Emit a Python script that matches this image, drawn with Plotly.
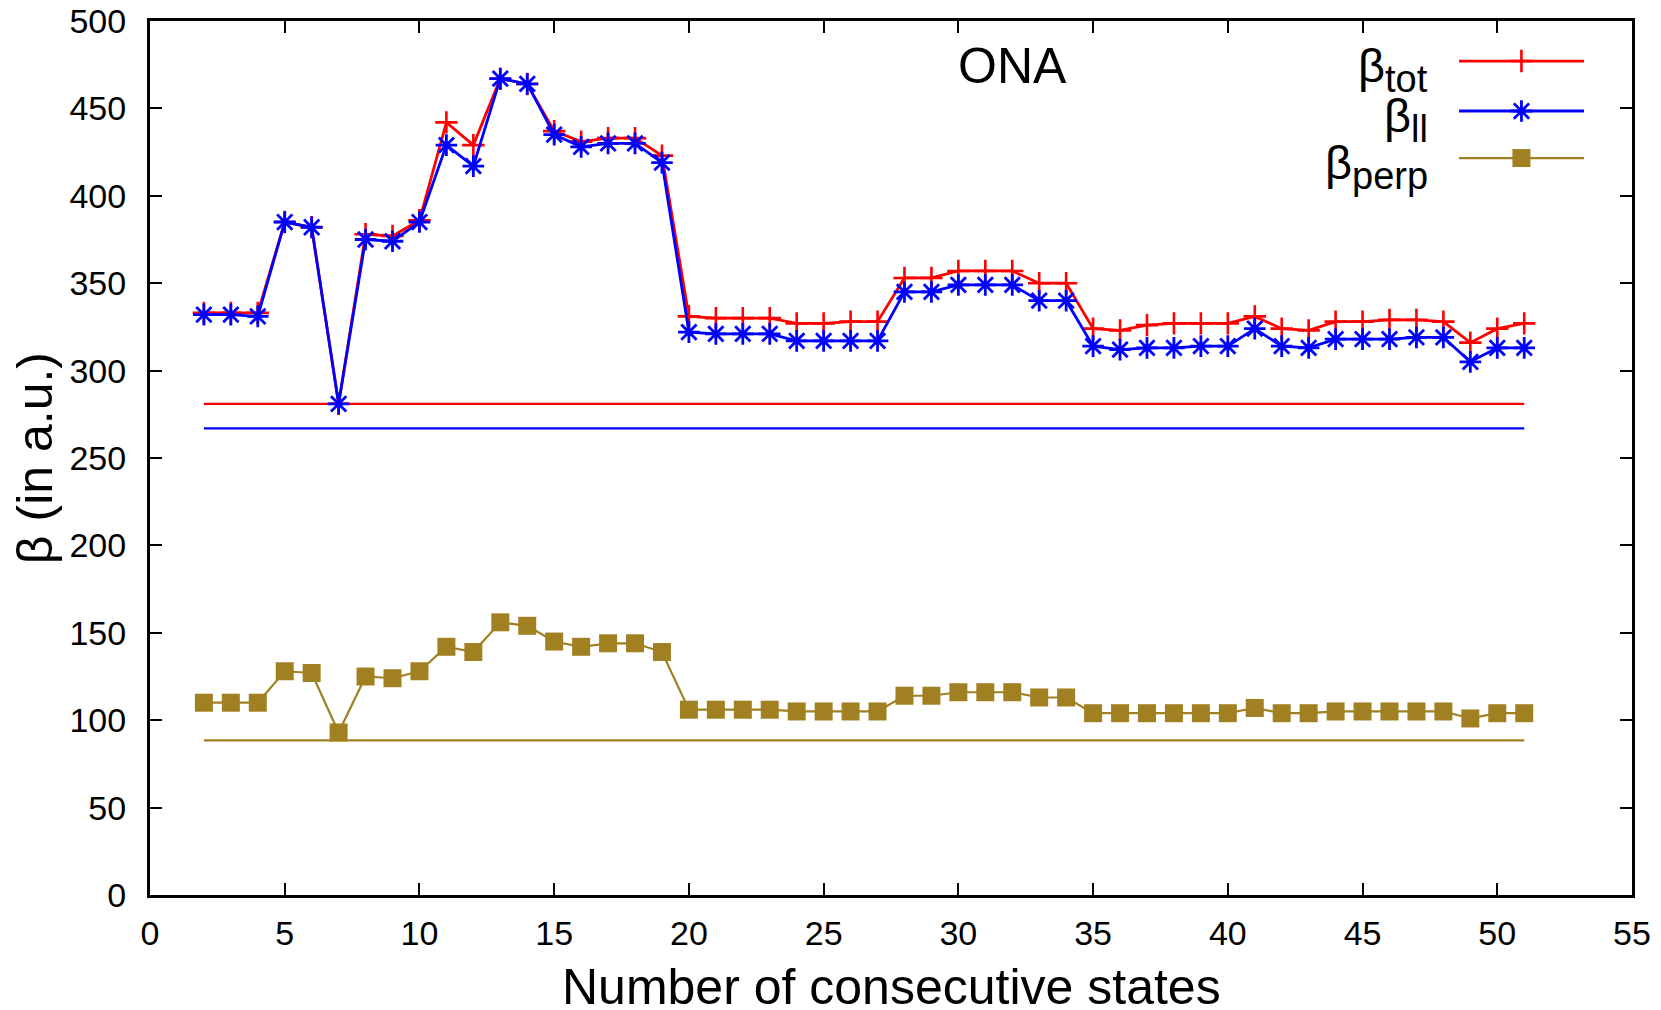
import plotly.graph_objects as go

# ---------------- data ----------------
states = list(range(2, 52))
beta_tot = [333, 333, 333, 385, 382, 281, 378, 377, 386,
            442, 429, 467, 464, 437, 431, 433, 433, 423,
            331, 330, 330, 330, 327, 327, 328, 328,
            353, 353, 357, 357, 357, 350, 350,
            324, 323, 326, 327, 327, 327, 331, 324, 323, 328, 328, 329, 329, 328, 316, 324, 327]
beta_ll = [332, 332, 331, 385, 382, 281, 375, 374, 385,
           429, 417, 467, 464, 435, 428, 430, 430, 419,
           322, 321, 321, 321, 317, 317, 317, 317,
           345, 345, 349, 349, 349, 340, 340,
           314, 312, 313, 313, 314, 314, 324, 314, 313, 318, 318, 318, 319, 319, 305, 313, 313]
beta_perp = [110, 110, 110, 128, 127, 93, 125, 124, 128,
             142, 139, 156, 154, 145, 142, 144, 144, 139,
             106, 106, 106, 106, 105, 105, 105, 105,
             114, 114, 116, 116, 116, 113, 113,
             104, 104, 104, 104, 104, 104, 107, 104, 104, 105, 105, 105, 105, 105, 101, 104, 104]
ref_tot = 281
ref_ll = 267
ref_perp = 88.5

series_base = ["β", "β", "β"]
series_subs = ["tot", "ll", "perp"]
x_ticks = list(range(0, 56, 5))
y_ticks = list(range(0, 501, 50))
x_title = "Number of consecutive states"
y_title = "β (in a.u.)"
panel_label = "ONA"

# ---------------- style ----------------
RED = "#ff0000"
BLUE = "#0000ff"
GOLD = "#a08020"
FONT = "Liberation Sans, Arial, Helvetica, sans-serif"

fig = go.Figure()

# horizontal reference levels
for val, col in [(ref_tot, RED), (ref_ll, BLUE), (ref_perp, GOLD)]:
    fig.add_trace(go.Scatter(x=[states[0], states[-1]], y=[val, val], mode="lines",
                             line=dict(color=col, width=2.2), showlegend=False, hoverinfo="skip"))

styles = [
    dict(color=RED, lw=2.8, marker=dict(symbol="cross-thin-open", size=16, color=RED,
                                        line=dict(color=RED, width=2.6))),
    dict(color=BLUE, lw=2.8, marker=dict(symbol="asterisk-open", size=18, color=BLUE,
                                         line=dict(color=BLUE, width=2.8))),
    dict(color=GOLD, lw=2.2, marker=dict(symbol="square", size=18, color=GOLD, line=dict(width=0))),
]

for ys, st, base, sub in zip([beta_tot, beta_ll, beta_perp], styles, series_base, series_subs):
    fig.add_trace(go.Scatter(x=states, y=ys, mode="lines+markers", name=base + sub,
                             line=dict(color=st["color"], width=st["lw"]),
                             marker=st["marker"], showlegend=False))

# ---------------- gnuplot-style key (text left of sample) ----------------
key_x0, key_x1, key_xm = 0.8833, 0.9676, 0.9254
key_rows = [0.9542, 0.8970, 0.8432]
for base, sub, ry, st in zip(series_base, series_subs, key_rows, styles):
    fig.add_trace(go.Scatter(x=[key_x0, key_x1], y=[ry, ry], mode="lines", xaxis="x2", yaxis="y2",
                             line=dict(color=st["color"], width=st["lw"]), showlegend=False,
                             hoverinfo="skip"))
    fig.add_trace(go.Scatter(x=[key_xm], y=[ry], mode="markers", xaxis="x2", yaxis="y2",
                             marker=st["marker"], showlegend=False, hoverinfo="skip"))
    label = f"{base}<sub><span style='font-size:38px'>{sub}</span></sub>"
    fig.add_annotation(x=0.8637, y=ry - 0.010, xref="paper", yref="paper", text=label,
                       showarrow=False, xanchor="right", yanchor="middle",
                       font=dict(family=FONT, size=47, color="black"))

# ---------------- axes ----------------
axis_common = dict(showline=True, linecolor="black", linewidth=3, mirror="ticks",
                   ticks="inside", ticklen=12, tickwidth=2, tickcolor="black",
                   showgrid=False, zeroline=False, automargin=False,
                   tickfont=dict(family=FONT, size=34, color="black"))
fig.update_layout(
    template="none",
    xaxis=dict(range=[0, 55], tickvals=x_ticks, ticklabelstandoff=6, **axis_common),
    yaxis=dict(range=[0, 500], tickvals=y_ticks, ticklabelstandoff=14, **axis_common),
    xaxis2=dict(range=[0, 1], overlaying="x", anchor="y2", visible=False, fixedrange=True,
                automargin=False),
    yaxis2=dict(range=[0, 1], overlaying="y", anchor="x2", visible=False, fixedrange=True,
                automargin=False),
)

fig.add_annotation(x=32, y=474, xref="x", yref="y", text=panel_label, showarrow=False,
                   font=dict(family=FONT, size=50, color="black"))
fig.add_annotation(x=0.5, y=-0.1053, xref="paper", yref="paper", text=x_title, showarrow=False,
                   xanchor="center", yanchor="middle", font=dict(family=FONT, size=50, color="black"))
fig.add_annotation(x=-0.0775, y=0.5, xref="paper", yref="paper", text=y_title, showarrow=False,
                   textangle=-90, xanchor="center", yanchor="middle",
                   font=dict(family=FONT, size=50, color="black"))

fig.update_layout(
    width=1661, height=1010,
    margin=dict(l=150, r=29, t=21, b=115, autoexpand=False),
    paper_bgcolor="white", plot_bgcolor="white",
    showlegend=False,
    font=dict(family=FONT, color="black"),
)

fig.write_html("out.html", config={"displayModeBar": False},
               post_script="document.body.style.margin='0px';")
